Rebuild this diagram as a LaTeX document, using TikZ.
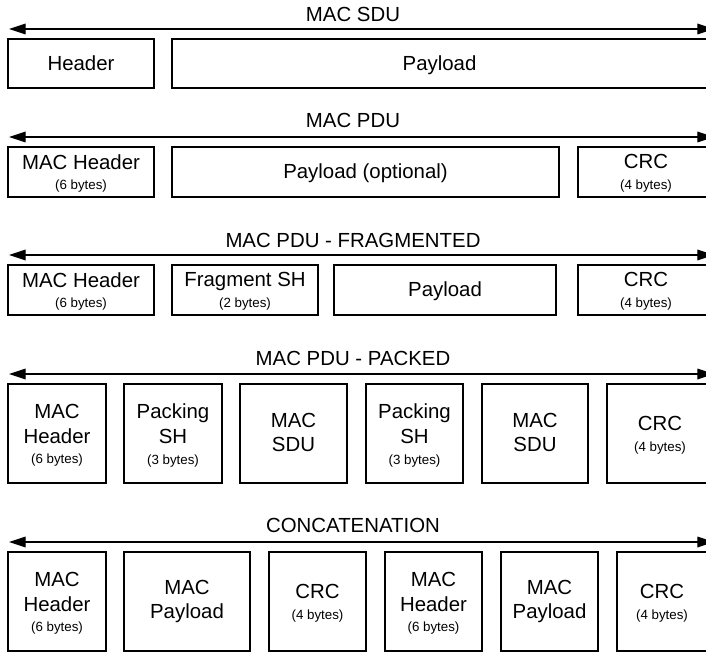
\documentclass[tikz,border=0pt]{standalone}
\usepackage{fontspec}
\setmainfont{Liberation Sans}
\usetikzlibrary{arrows.meta}

\newcommand{\bytes}[1]{{\fontsize{10}{12}\selectfont #1}}

\begin{document}
\begin{tikzpicture}[x=0.75pt, y=-0.75pt,
    field/.style={draw, line width=0.95pt},
    txt/.style={font=\fontsize{15.3}{18.5}\selectfont, align=center, inner sep=0pt},
    span/.style={arrows={Triangle[length=12.5pt, width=8pt]-Triangle[length=12.5pt, width=8pt]}, line width=0.9pt}]

\useasboundingbox (0,0) rectangle (706,652);

% ============================================================
% MAC SDU
% ============================================================

\node[txt] (sdu) at (353,14) {MAC SDU};
\coordinate (sduL) at (9,29);
\coordinate (sduR) at (714,29);
\draw[span] (sduL) -- (sduR);

\draw[field] (8,39)   rectangle (154,88);
\draw[field] (172,39) rectangle (707,88);
\node[txt] (sduHdr) at (81,63.5)  {Header};
\node[txt] (sduPay) at (439.5,65) {Payload};

% ============================================================
% MAC PDU
% ============================================================

\node[txt] (pdu) at (353,120) {MAC PDU};
\coordinate (pduL) at (9,137);
\coordinate (pduR) at (714,137);
\draw[span] (pduL) -- (pduR);

\draw[field] (8,147)   rectangle (154,197);
\draw[field] (172,147) rectangle (559,197);
\draw[field] (578,147) rectangle (714,197);
\node[txt] (pduHdr) at (81,173.5)  {MAC Header\\[-3pt]\bytes{(6 bytes)}};
\node[txt] (pduPay) at (365.5,173) {Payload (optional)};
\node[txt] (pduCrc) at (646,173.5) {CRC\\[-3pt]\bytes{(4 bytes)}};

% ============================================================
% MAC PDU - FRAGMENTED
% ============================================================

\node[txt] (frag) at (353,240) {MAC PDU - FRAGMENTED};
\coordinate (fragL) at (9,255);
\coordinate (fragR) at (714,255);
\draw[span] (fragL) -- (fragR);

\draw[field] (8,265)   rectangle (154,315);
\draw[field] (172,265) rectangle (318,315);
\draw[field] (334,265) rectangle (556,315);
\draw[field] (578,265) rectangle (714,315);
\node[txt] (fragHdr) at (81,291.5)  {MAC Header\\[-3pt]\bytes{(6 bytes)}};
\node[txt] (fragSh)  at (245,291.5) {Fragment SH\\[-3pt]\bytes{(2 bytes)}};
\node[txt] (fragPay) at (445,291)   {Payload};
\node[txt] (fragCrc) at (646,291.5) {CRC\\[-3pt]\bytes{(4 bytes)}};

% ============================================================
% MAC PDU - PACKED
% ============================================================

\node[txt] (pack) at (353,358) {MAC PDU - PACKED};
\coordinate (packL) at (9,374);
\coordinate (packR) at (714,374);
\draw[span] (packL) -- (packR);

\draw[field] (8,384)   rectangle (106,483);
\draw[field] (124,384) rectangle (222,483);
\draw[field] (240,384) rectangle (347,483);
\draw[field] (366,384) rectangle (463,483);
\draw[field] (482,384) rectangle (588,483);
\draw[field] (607,384) rectangle (713,483);
\node[txt] (packHdr)  at (57,435.5)    {MAC\\Header\\[-3pt]\bytes{(6 bytes)}};
\node[txt] (packShA)  at (173,435.5)   {Packing\\SH\\[-3pt]\bytes{(3 bytes)}};
\node[txt] (packSduA) at (293.5,432.5) {MAC\\SDU};
\node[txt] (packShB)  at (414.5,435.5) {Packing\\SH\\[-3pt]\bytes{(3 bytes)}};
\node[txt] (packSduB) at (535,432.5)   {MAC\\SDU};
\node[txt] (packCrc)  at (660,435.5)   {CRC\\[-3pt]\bytes{(4 bytes)}};

% ============================================================
% CONCATENATION
% ============================================================

\node[txt] (cat) at (353,525) {CONCATENATION};
\coordinate (catL) at (9,542);
\coordinate (catR) at (714,542);
\draw[span] (catL) -- (catR);

\draw[field] (8,552)   rectangle (106,651);
\draw[field] (124,552) rectangle (250,651);
\draw[field] (269,552) rectangle (366,651);
\draw[field] (385,552) rectangle (482,651);
\draw[field] (501,552) rectangle (598,651);
\draw[field] (617,552) rectangle (708,651);
\node[txt] (catHdrA) at (57,603.5)    {MAC\\Header\\[-3pt]\bytes{(6 bytes)}};
\node[txt] (catPayA) at (187,601.5)   {MAC\\Payload};
\node[txt] (catCrcA) at (317.5,603.5) {CRC\\[-3pt]\bytes{(4 bytes)}};
\node[txt] (catHdrB) at (433.5,603.5) {MAC\\Header\\[-3pt]\bytes{(6 bytes)}};
\node[txt] (catPayB) at (549.5,601.5) {MAC\\Payload};
\node[txt] (catCrcB) at (662,603.5)   {CRC\\[-3pt]\bytes{(4 bytes)}};

\end{tikzpicture}
\end{document}
